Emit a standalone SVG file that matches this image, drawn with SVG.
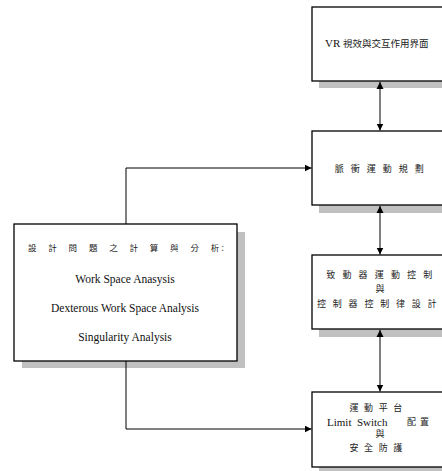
<svg xmlns="http://www.w3.org/2000/svg" width="442" height="471" viewBox="0 0 442 471">
<style>
.shadow{fill:#c0c0c0;stroke:none}
.box{fill:#fff;stroke:#000;stroke-width:1.3}
.cjk{font-family:"Noto Sans CJK TC","Noto Sans CJK SC",sans-serif;fill:#222}
.lat{font-family:"Liberation Serif","Times New Roman",serif;fill:#111}
.wire{fill:none;stroke:#000;stroke-width:1}
</style>
<defs>
<marker id="ah" viewBox="0 0 10 10" refX="10" refY="5" markerWidth="7" markerHeight="8" markerUnits="userSpaceOnUse" orient="auto-start-reverse">
<path d="M0,0 L10,5 L0,10 z" fill="#000"/>
</marker>
</defs>
<rect width="442" height="471" fill="#fff"/>

<g id="node-vr">
<rect class="shadow" x="319" y="81" width="140" height="7"/>
<rect class="box" x="312" y="7" width="140" height="74"/>
<text x="325" y="47" class="lat" font-size="11">VR</text>
<text x="343" y="46.5" class="cjk" font-size="9.5">視效與交互作用界面</text>
</g>

<g id="node-pulse">
<rect class="shadow" x="319" y="205" width="140" height="8"/>
<rect class="box" x="312" y="131" width="140" height="74"/>
<text x="334.7 350.7 366.7 382.7 398.7 414.7" y="171.5" class="cjk" font-size="9">脈衝運動規劃</text>
</g>

<g id="node-actuator">
<rect class="shadow" x="319" y="329" width="140" height="8"/>
<rect class="box" x="312" y="255" width="140" height="74"/>
<text x="326.2 342.4 358.5 374.7 390.9 407 423.2" y="277.5" class="cjk" font-size="9">致動器運動控制</text>
<text x="380" y="292" class="cjk" font-size="9" text-anchor="middle">與</text>
<text x="317 332.8 348.6 364.4 380.2 396 411.8 427.6" y="306.5" class="cjk" font-size="9">控制器控制律設計</text>
</g>

<g id="node-platform">
<rect class="shadow" x="319" y="467" width="140" height="8"/>
<rect class="box" x="312" y="392" width="140" height="75"/>
<text x="349.5 364.1 378.7 393.3" y="410.5" class="cjk" font-size="9">運動平台</text>
<text x="327" y="426" class="lat" font-size="11" xml:space="preserve">Limit  Switch</text>
<text x="407 420" y="425" class="cjk" font-size="9">配置</text>
<text x="380" y="436.5" class="cjk" font-size="9" text-anchor="middle">與</text>
<text x="349.5 364.1 378.7 393.3" y="450.5" class="cjk" font-size="9">安全防護</text>
</g>

<g id="node-analysis">
<rect class="shadow" x="22" y="232" width="223" height="136"/>
<rect class="box" x="14" y="224" width="223" height="137"/>
<text x="28 48.3 68.6 88.9 109.2 129.5 149.8 170.1 190.4 210.7 221.5" y="251" class="cjk" font-size="8.5">設計問題之計算與分析:</text>
<text x="125" y="283" class="lat" font-size="11.5" text-anchor="middle">Work Space Anasysis</text>
<text x="125" y="312" class="lat" font-size="11.5" text-anchor="middle">Dexterous Work Space Analysis</text>
<text x="125" y="341" class="lat" font-size="11.5" text-anchor="middle">Singularity Analysis</text>
</g>

<g id="connectors">
<line class="wire" x1="380" y1="82" x2="380" y2="130.5" marker-start="url(#ah)" marker-end="url(#ah)"/>
<line class="wire" x1="380" y1="206" x2="380" y2="254.5" marker-start="url(#ah)" marker-end="url(#ah)"/>
<line class="wire" x1="380" y1="330" x2="380" y2="391.5" marker-start="url(#ah)" marker-end="url(#ah)"/>
<polyline class="wire" points="126,224 126,168 311.5,168" marker-end="url(#ah)"/>
<polyline class="wire" points="126,361 126,429 311.5,429" marker-end="url(#ah)"/>
</g>
</svg>
